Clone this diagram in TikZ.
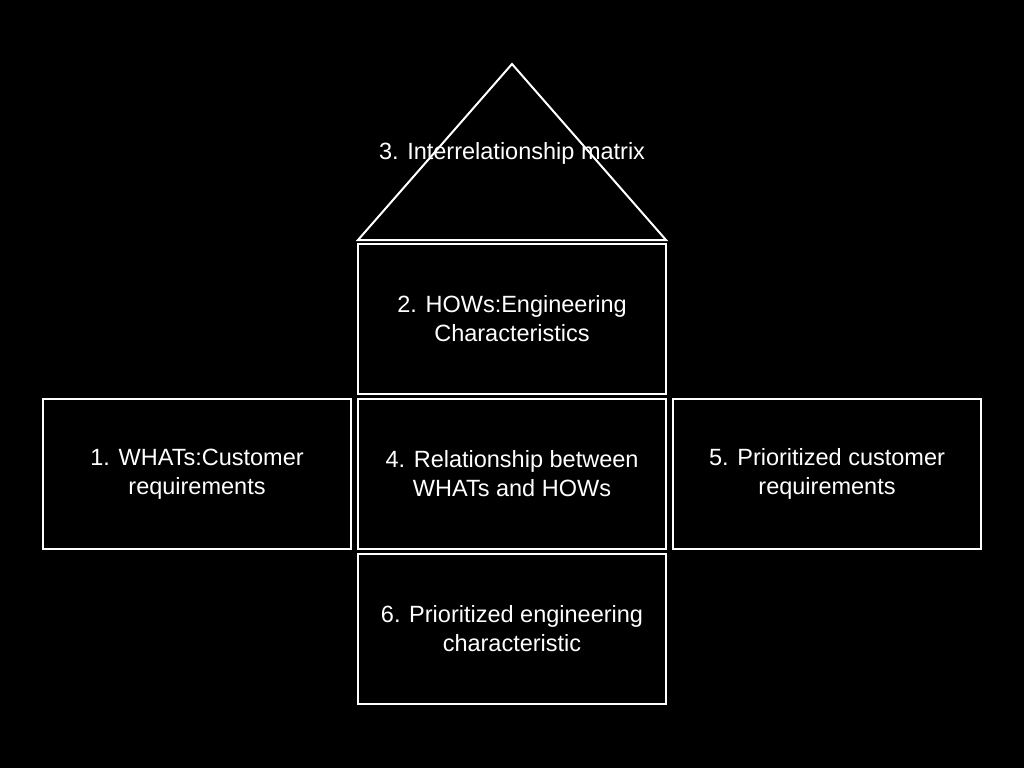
\documentclass[tikz,border=0pt]{standalone}
\usepackage{fontspec}
\setmainfont{Liberation Sans}
\begin{document}
\begin{tikzpicture}[x=1pt,y=-1pt,
  lbl/.style={text=white,font=\fontsize{23.5}{29}\selectfont},
  box/.style={lbl,draw=white,line width=1.5pt,minimum width=308pt,minimum height=150pt,inner sep=0pt,align=center}]
\fill[black] (0,0) rectangle (1024,768);
\useasboundingbox (0,0) rectangle (1024,768);
\draw[white,line width=2pt] (358,240) -- (512,64) -- (666,240) -- cycle;
\node[lbl] (t3) at (512,153) {3. Interrelationship matrix};
\node[box] (b2) at (512,319) {2. HOWs:Engineering\\Characteristics};
\node[box] (b4) at (512,474) {4. Relationship between\\WHATs and HOWs};
\node[box] (b1) at (197,474) {1. WHATs:Customer\\requirements};
\node[box] (b5) at (827,474) {5. Prioritized customer\\requirements};
\node[box] (b6) at (512,629) {6. Prioritized engineering\\characteristic};
\end{tikzpicture}
\end{document}
